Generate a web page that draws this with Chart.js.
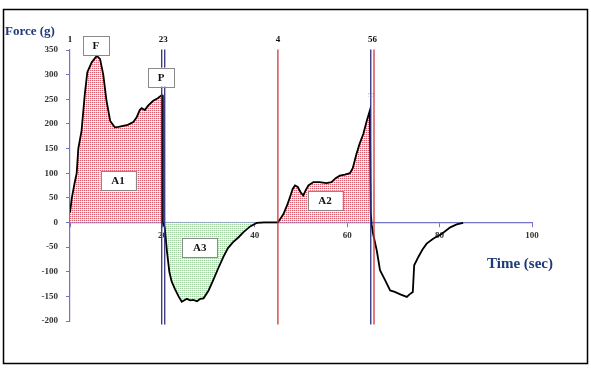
<!DOCTYPE html>
<html>
<head>
<meta charset="utf-8">
<script src="https://cdn.jsdelivr.net/npm/chart.js@4.4.1/dist/chart.umd.min.js"></script>
<style>
  html, body { margin: 0; padding: 0; background: #fff; }
  #wrap { width: 591px; height: 368px; position: relative; }
</style>
</head>
<body>
<div id="wrap"><canvas id="force" width="591" height="368"></canvas></div>
<script>
// time (sec) and force (g)
const times = [0, 0.4, 1.0, 1.45, 1.8, 2.5, 3.2, 3.75, 4.7, 5.8, 6.5, 7.2, 7.9, 8.7, 9.7, 10.5, 11.5, 12.5, 13.7, 14.4, 15.1, 15.5, 16.2, 16.9, 18, 19, 19.8, 20.0,
  20.1, 20.5, 21, 21.5, 22, 22.7, 23.5, 24.2, 25.3, 26, 26.7, 27.5, 28.2, 28.9, 30, 31, 32, 33.2, 34.2, 35.3, 36.5, 37.5, 39, 40.4, 42, 45,
  46.2, 47, 47.6, 48.2, 48.7, 49.3, 50, 50.5, 51, 51.6, 52.7, 54, 55.5, 56.6, 57.5, 58.4, 59.5, 60.6, 61.2, 62, 62.7, 63.5, 64.2, 64.9,
  65.1, 65.3, 65.6, 66.4, 67.1, 68.2, 69.3, 70.3, 71.5, 72.9, 73.5, 74.2, 74.5, 75.4, 76.3, 77.2, 78.6, 80.5, 82.3, 83.7, 85.1];
const force = [20, 50, 80, 100, 150, 186, 260, 305, 325, 338, 332, 300, 247, 206, 193, 194, 196, 198, 204, 213, 228, 232, 228, 237, 247, 252, 258, 258,
  0, -10, -60, -100, -120, -135, -150, -161, -155, -158, -157, -160, -155, -154, -138, -117, -95, -70, -52, -40, -30, -20, -8, -1, 0, 0,
  17, 35, 51, 68, 75, 72, 60, 55, 65, 75, 82, 82, 80, 82, 90, 95, 97, 100, 110, 139, 160, 180, 205, 227,
  20, -5, -23, -57, -97, -117, -138, -141, -146, -151, -146, -141, -87, -70, -55, -43, -33, -23, -10, -4, -1];

// shaded areas (time ranges)
const areaNames = ['A1', 'A3', 'A2'];
const areaFrom = [0, 20.1, 45];
const areaTo = [20.1, 42, 65.1];

// event markers along the time axis
const markerTimes = [19.85, 20.5, 45, 65.1, 65.8];
const markerColors = ['#33337a', '#33337a', '#d2343a', '#2c2c80', '#d2343a'];
const markerLabels = ['1', '23', '4', '56'];
const markerLabelTimes = [0, 20.2, 45, 65.5];

// boxed annotations [text, time, force]
const boxes = [['F', 5.6, 360, 26], ['P', 19.7, 295, 26], ['A1', 10.4, 85, 35], ['A3', 28.1, -51, 35], ['A2', 55.2, 45, 35]];

function dots(c1, c2, c3) {
  const p = document.createElement('canvas');
  p.width = 2; p.height = 2;
  const g = p.getContext('2d');
  g.fillStyle = '#fff'; g.fillRect(0, 0, 2, 2);
  g.fillStyle = c1; g.fillRect(0, 0, 1, 1);
  g.fillStyle = c2; g.fillRect(1, 0, 1, 1);
  g.fillStyle = c3; g.fillRect(0, 1, 1, 1);
  return document.getElementById('force').getContext('2d').createPattern(p, 'repeat');
}
const redDots = dots('#d9606e', '#f2c2c8', '#fbe7ea');
const greenDots = dots('#a2cfa2', '#d8ecd8', '#f0f8f0');

const curve = times.map((t, i) => ({x: t, y: force[i]}));

const datasets = [];
markerTimes.forEach((t, i) => {
  datasets.push({
    data: [{x: t, y: -207}, {x: t, y: 351}],
    borderColor: markerColors[i], borderWidth: 1.3, pointRadius: 0, clip: false, order: 0
  });
});
datasets.push({ data: curve, borderColor: '#000', borderWidth: 1.8, pointRadius: 0, order: 1 });
areaNames.forEach((n, i) => {
  datasets.push({
    data: curve.filter(p => p.x >= areaFrom[i] && p.x <= areaTo[i]),
    borderWidth: 0, borderColor: 'rgba(0,0,0,0)', pointRadius: 0,
    fill: 'origin', backgroundColor: n === 'A3' ? greenDots : redDots, order: 2
  });
});

const extras = {
  id: 'extras',
  afterDraw(chart) {
    const ctx = chart.ctx, xs = chart.scales.x, ys = chart.scales.y;
    ctx.save();
    // frame
    ctx.strokeStyle = '#000'; ctx.lineWidth = 1.5;
    ctx.strokeRect(3.5, 9.5, 584, 354);
    // axis titles
    ctx.fillStyle = '#1f3a78';
    ctx.textBaseline = 'middle';
    ctx.font = 'bold 13px "Liberation Serif"';
    ctx.textAlign = 'left';
    ctx.fillText('Force (g)', 5, 32);
    ctx.font = 'bold 15px "Liberation Serif"';
    ctx.fillText('Time (sec)', 487, 264);
    // marker numbers
    ctx.fillStyle = '#111';
    ctx.font = 'bold 9px "Liberation Serif"';
    ctx.textAlign = 'center';
    markerLabels.forEach((l, i) => ctx.fillText(l, xs.getPixelForValue(markerLabelTimes[i]), 40));
    ctx.fillStyle = 'rgba(110,110,200,0.55)';
    ctx.font = '7px "Liberation Serif"';
    ctx.fillText('57', xs.getPixelForValue(65.2), 95);
    // boxes
    ctx.font = 'bold 11px "Liberation Serif"';
    boxes.forEach(([txt, t, f, w]) => {
      const cx = xs.getPixelForValue(t), cy = ys.getPixelForValue(f);
      ctx.fillStyle = '#fff';
      ctx.fillRect(cx - w / 2, cy - 9.5, w, 19);
      ctx.strokeStyle = '#8a8a8a'; ctx.lineWidth = 1;
      ctx.strokeRect(Math.round(cx - w / 2) + 0.5, Math.round(cy - 9.5) + 0.5, w, 19);
      ctx.fillStyle = '#111';
      ctx.fillText(txt, cx, cy + 1);
    });
    ctx.restore();
  }
};

const axisColor = '#7474c4';
new Chart(document.getElementById('force'), {
  type: 'line',
  data: { datasets },
  plugins: [extras],
  options: {
    responsive: false,
    animation: false,
    layout: { padding: { left: 0, right: 59, top: 50, bottom: 47 } },
    plugins: { legend: { display: false }, tooltip: { enabled: false } },
    scales: {
      x: {
        type: 'linear', min: 0, max: 100, position: { y: 0 },
        border: { color: axisColor, width: 1.2 },
        grid: { drawOnChartArea: false, drawTicks: true, tickLength: 4, color: axisColor },
        ticks: { stepSize: 20, padding: 4, color: '#333', font: { family: 'Liberation Serif', weight: 'bold', size: 9 },
          callback: v => v === 0 ? '' : v }
      },
      y: {
        min: -200, max: 350,
        afterFit: s => { s.width = 70; },
        border: { color: axisColor, width: 1.2 },
        grid: { drawOnChartArea: false, drawTicks: true, tickLength: 4, color: axisColor },
        ticks: { stepSize: 50, padding: 8, color: '#333', font: { family: 'Liberation Serif', weight: 'bold', size: 9 } }
      }
    }
  }
});
</script>
</body>
</html>
